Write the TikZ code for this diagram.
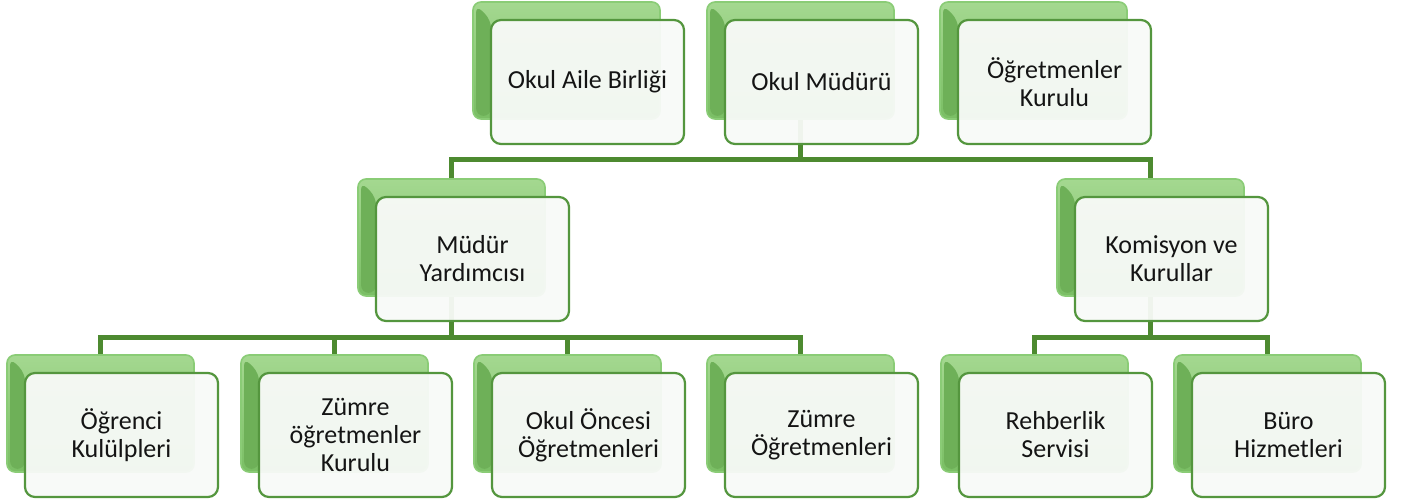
\documentclass[tikz,border=0pt]{standalone}
\usepackage{fontspec}
\setmainfont{Carlito}
\usetikzlibrary{backgrounds}
\definecolor{backtop}{RGB}{164,216,144}
\definecolor{backbot}{RGB}{122,190,100}
\definecolor{backdark}{RGB}{110,176,88}
\definecolor{backline}{RGB}{138,204,118}
\definecolor{frontline}{RGB}{84,150,62}
\definecolor{frontfill}{RGB}{248,250,248}
\definecolor{connc}{RGB}{77,138,48}
\definecolor{txt}{RGB}{20,20,20}
\tikzset{
  backbox/.style={rectangle, rounded corners=8pt, minimum width=187pt, minimum height=117pt,
    draw=backline, line width=1.6pt, top color=backtop, bottom color=backbot, inner sep=0pt,
    path picture={
      \fill[backdark] ([shift={(3pt,-3pt)}]path picture bounding box.north west)
        -- ([shift={(18pt,-18pt)}]path picture bounding box.north west)
        -- ([shift={(18pt,3pt)}]path picture bounding box.south west)
        -- ([shift={(3pt,3pt)}]path picture bounding box.south west) -- cycle;
    }},
  frontbox/.style={rectangle, rounded corners=10pt, minimum width=193pt, minimum height=124pt,
    draw=frontline, line width=2.2pt, fill=frontfill, fill opacity=0.95, draw opacity=1, text opacity=1,
    align=center, font=\fontsize{26}{28}\selectfont, text=txt, inner sep=0pt},
  conn/.style={draw=connc, line width=5pt, line join=miter}
}
\newcommand\orgbox[4]{%
  \node[backbox] (#1b) at (#2+93.5,#3+58.5) {};
  \node[frontbox] (#1) at (#2+114.5,#3+80) {#4};
}
\begin{document}
\begin{tikzpicture}[x=1pt,y=-1pt]
\useasboundingbox (0,0) rectangle (1403,502);
% top row
\orgbox{oab}{473}{2}{Okul Aile Birliği}
\orgbox{om}{707}{2}{Okul Müdürü}
\orgbox{ok}{940}{2}{Öğretmenler\\Kurulu}
% middle row
\orgbox{my}{358}{179}{Müdür\\Yardımcısı}
\orgbox{kk}{1057}{179}{Komisyon ve\\Kurullar}
% bottom row
\orgbox{ba}{7}{355}{Öğrenci\\Kulülpleri}
\orgbox{bb}{241}{355}{Zümre\\öğretmenler\\Kurulu}
\orgbox{bc}{474}{355}{Okul Öncesi\\Öğretmenleri}
\orgbox{bd}{707}{355}{Zümre\\Öğretmenleri}
\orgbox{be}{941}{355}{Rehberlik\\Servisi}
\orgbox{bf}{1174}{355}{Büro\\Hizmetleri}
\coordinate (busA) at (0,159.5);
\coordinate (busB) at (0,337.5);
\begin{pgfonlayer}{background}
\draw[conn] (omb.center) -- (omb.center |- busA);
\draw[conn] (myb.north) -- (myb.north |- busA) -- (kkb.north |- busA) -- (kkb.north);
\draw[conn] (myb.center) -- (myb.center |- busB);
\draw[conn] (bab.north) -- (bab.north |- busB) -- (bdb.north |- busB) -- (bdb.north);
\draw[conn] (bbb.north) -- (bbb.north |- busB);
\draw[conn] (bcb.north) -- (bcb.north |- busB);
\draw[conn] (kkb.center) -- (kkb.center |- busB);
\draw[conn] (beb.north) -- (beb.north |- busB) -- (bfb.north |- busB) -- (bfb.north);
\end{pgfonlayer}
\end{tikzpicture}
\end{document}
